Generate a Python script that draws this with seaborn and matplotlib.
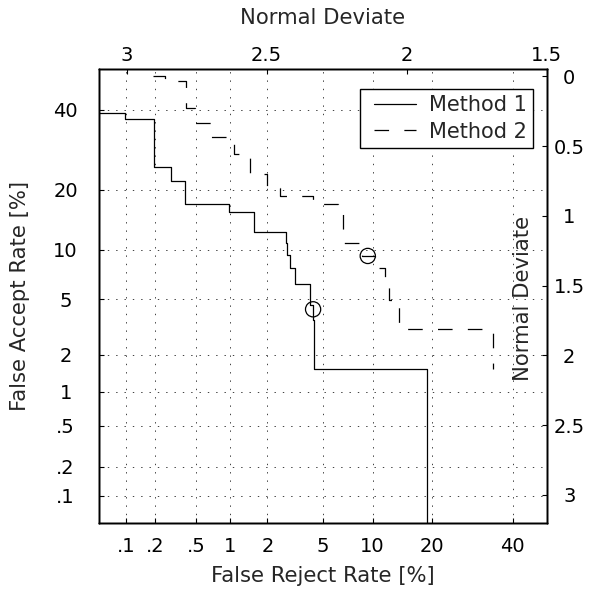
import math
from statistics import NormalDist
import numpy as np
import pandas as pd
import matplotlib
matplotlib.use("Agg")
import matplotlib.pyplot as plt
from matplotlib.ticker import FixedLocator, FixedFormatter, NullLocator
from matplotlib.legend_handler import HandlerLine2D
import seaborn as sns

# ---------------- data (percent) ----------------
m1_frr = [0.03, 0.096, 0.096, 0.193, 0.193, 0.29, 0.29, 0.39, 0.39, 0.975, 0.975,
          1.56, 1.56, 2.74, 2.74, 2.81, 2.81, 2.94, 2.94, 3.23, 3.23, 4.11, 4.11,
          4.29, 4.29, 4.37, 4.37, 19.0, 19.0]
m1_far = [39.2, 39.2, 37.5, 37.5, 25.0, 25.0, 21.9, 21.9, 17.2, 17.2, 15.7,
          15.7, 12.5, 12.5, 10.9, 10.9, 9.35, 9.35, 7.82, 7.82, 6.24, 6.24, 4.58,
          4.58, 3.61, 3.61, 1.56, 1.56, 0.01]

m2_frr = [0.19, 0.25, 0.25, 0.40, 0.40, 0.49, 0.49, 0.68, 0.68, 1.07, 1.07,
          1.47, 1.47, 1.97, 1.97, 2.48, 2.48, 4.26, 4.26, 6.22, 6.22, 6.68, 6.68,
          8.68, 8.68, 10.3, 10.3, 11.7, 11.7, 12.3, 12.3, 13.8, 13.8, 34.6, 34.6]
m2_far = [50.0, 50.0, 48.4, 48.4, 40.7, 40.7, 36.3, 36.3, 32.6, 32.6, 28.1,
          28.1, 23.5, 23.5, 20.4, 20.4, 18.8, 18.8, 17.2, 17.2, 15.6, 15.6, 10.9,
          10.9, 9.23, 9.23, 7.82, 7.82, 6.24, 6.24, 4.94, 4.94, 3.10, 3.10, 1.55]

eer_frr = [4.29, 9.4]
eer_far = [4.28, 9.23]

rate_ticks = [0.1, 0.2, 0.5, 1, 2, 5, 10, 20, 40]
rate_labels = [".1", ".2", ".5", "1", "2", "5", "10", "20", "40"]
dev_top_ticks = [3, 2.5, 2, 1.5]
dev_top_labels = ["3", "2.5", "2", "1.5"]
dev_right_ticks = [0, 0.5, 1, 1.5, 2, 2.5, 3]
dev_right_labels = ["0", "0.5", "1", "1.5", "2", "2.5", "3"]

# ---------------- style ----------------
sns.set_style("ticks")
plt.rcParams["font.family"] = ["DejaVu Sans"]
plt.rcParams["lines.scale_dashes"] = False

TICK_FS = 14
LABEL_FS = 15.2
LEG_FS = 15

nd = NormalDist()
_ppf = np.vectorize(nd.inv_cdf, otypes=[float])
_cdf = np.vectorize(nd.cdf, otypes=[float])


def fwd(p):
    p = np.clip(np.asarray(p, dtype=float) / 100.0, 1e-12, 1 - 1e-12)
    return _ppf(p)


def inv(z):
    return _cdf(np.asarray(z, dtype=float)) * 100.0


fig = plt.figure(figsize=(5.89, 5.92), dpi=100)
ax = fig.add_axes([99 / 589, 69 / 592, 448 / 589, 454 / 592])
ax.set_xscale("function", functions=(fwd, inv))
ax.set_yscale("function", functions=(fwd, inv))

df1 = pd.DataFrame({"frr": m1_frr, "far": m1_far})
df2 = pd.DataFrame({"frr": m2_frr, "far": m2_far})

sns.lineplot(data=df1, x="frr", y="far", sort=False, estimator=None, ax=ax,
             color="black", lw=0.9, label="Method 1")
sns.lineplot(data=df2, x="frr", y="far", sort=False, estimator=None, ax=ax,
             color="black", lw=0.9, linestyle=(0, (10.5, 11)), label="Method 2")
sns.scatterplot(x=eer_frr, y=eer_far, ax=ax, s=120, marker="o",
                facecolor="none", edgecolor="black", linewidth=0.9,
                zorder=4, legend=False)

lo = inv(-3.2905)
ax.set_xlim(lo, 50.0)
ax.set_ylim(lo, inv(0.048))

for axis in (ax.xaxis, ax.yaxis):
    axis.set_major_locator(FixedLocator(rate_ticks))
    axis.set_major_formatter(FixedFormatter(rate_labels))
    axis.set_minor_locator(NullLocator())

ax.grid(True, which="major", linestyle=(0, (1, 5)), color="0.25", lw=0.7)
ax.tick_params(axis="both", which="major", direction="in", length=3.6,
               width=0.8, labelsize=TICK_FS, colors="black",
               top=False, right=False, bottom=True, left=True)
ax.tick_params(axis="x", pad=10)
ax.tick_params(axis="y", pad=24)
for lab in ax.get_yticklabels():
    lab.set_horizontalalignment("center")
for sp in ax.spines.values():
    sp.set_color("black")
    sp.set_linewidth(1.0)

ax.set_xlabel("False Reject Rate [%]", fontsize=LABEL_FS)
ax.xaxis.set_label_coords(0.5, (523 - 576) / 454)
ax.xaxis.label.set_va("center")
ax.set_ylabel("False Accept Rate [%]", fontsize=LABEL_FS)
ax.yaxis.set_label_coords((20 - 99) / 448, 0.5)
ax.yaxis.label.set_va("center")

# legend: extra horizontal whitespace on the left of the sample lines
handles, labels = ax.get_legend_handles_labels()
leg = ax.legend(handles, labels, loc="upper right",
                bbox_to_anchor=((533 - 99) / 448, (523 - 89) / 454),
                borderaxespad=0, frameon=True, fancybox=False, framealpha=1,
                edgecolor="black", fontsize=LEG_FS, handlelength=2.4,
                handletextpad=0.6, labelspacing=0.3, borderpad=0.3,
                handler_map={h: HandlerLine2D(xpad=0.35) for h in handles})
leg.get_frame().set_linewidth(1.0)

# ---------------- top axis (normal deviate) ----------------
ax_t = ax.twiny()
ax_t.set_xlim(3.0987, 1.4985)
ax_t.xaxis.set_major_locator(FixedLocator(dev_top_ticks))
ax_t.xaxis.set_major_formatter(FixedFormatter(dev_top_labels))
ax_t.xaxis.set_minor_locator(NullLocator())
ax_t.tick_params(axis="x", direction="in", length=3.6, width=0.8, labelsize=TICK_FS,
                 pad=3, colors="black")
ax_t.set_xlabel("Normal Deviate", fontsize=LABEL_FS)
ax_t.xaxis.set_label_coords(0.5, (523 - 18) / 454)
ax_t.xaxis.label.set_va("center")
ax_t.grid(False)

# ---------------- right axis (normal deviate) ----------------
ax_r = ax.twinx()
ax_r.set_ylim(3.2006, -0.0516)
ax_r.yaxis.set_major_locator(FixedLocator(dev_right_ticks))
ax_r.yaxis.set_major_formatter(FixedFormatter(dev_right_labels))
ax_r.yaxis.set_minor_locator(NullLocator())
ax_r.tick_params(axis="y", direction="in", length=3.6, width=0.8, labelsize=TICK_FS,
                 pad=16, colors="black")
for lab in ax_r.get_yticklabels():
    lab.set_horizontalalignment("center")
ax_r.set_ylabel("Normal Deviate", fontsize=LABEL_FS)
ax_r.yaxis.set_label_coords((523 - 99) / 448, (523 - 298) / 454)
ax_r.yaxis.label.set_va("center")
ax_r.grid(False)

for a in (ax_t, ax_r):
    for sp in a.spines.values():
        sp.set_color("black")
        sp.set_linewidth(1.0)

fig.savefig("out.png", dpi=100)
